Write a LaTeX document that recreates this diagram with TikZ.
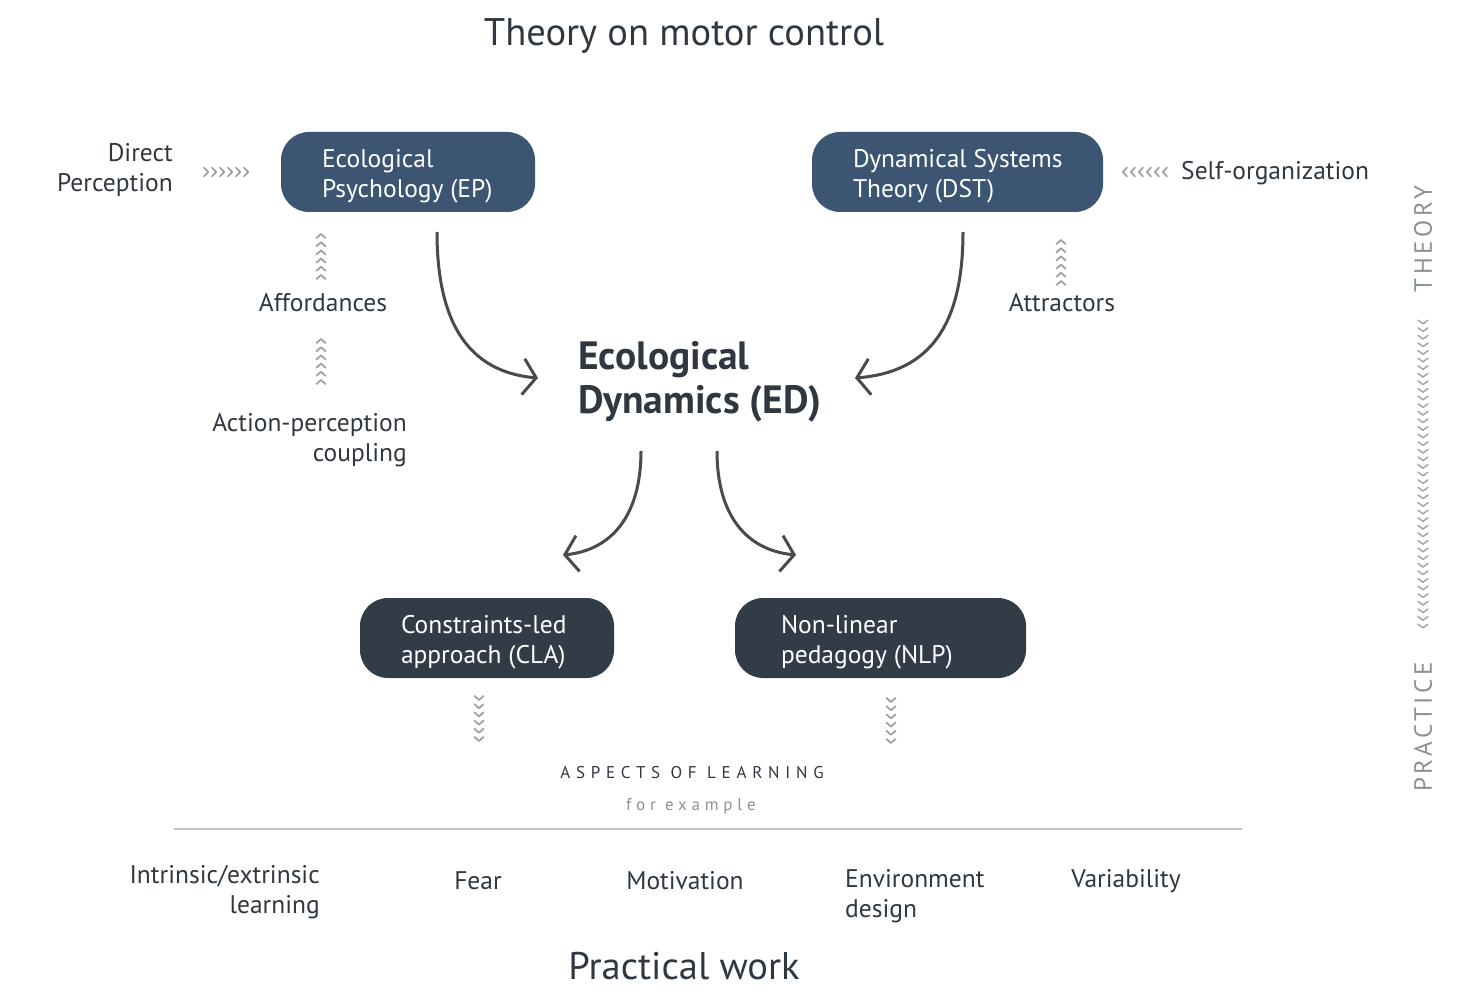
\documentclass[tikz,border=0pt]{standalone}
\usepackage{fontspec}
\setmainfont{PT Sans}
\newfontfamily\spaced[LetterSpace=34]{PT Sans}
\newfontfamily\spacedb[LetterSpace=28]{PT Sans}
\newfontfamily\spacedc[LetterSpace=14]{PT Sans}
\usetikzlibrary{arrows.meta,calc}
\definecolor{txt}{HTML}{2F3740}
\definecolor{epblue}{HTML}{3C5573}
\definecolor{dark}{HTML}{323C47}
\definecolor{chev}{HTML}{9EA2A6}
\definecolor{side}{HTML}{8A9197}
\definecolor{arr}{HTML}{4A4A4A}
\definecolor{rule}{HTML}{C2C4C6}
\tikzset{
  box/.style={fill=#1, rounded corners=28pt, minimum height=80pt, inner sep=0pt},
  boxtext/.style={anchor=west, align=left, text=white, inner sep=0pt, font=\fontsize{25.5}{30}\selectfont},
  lbl/.style={text=txt, font=\fontsize{25.5}{30}\selectfont, inner sep=0pt},
  flow/.style={draw=arr, line width=3pt, -{Straight Barb[length=13pt,width=36pt,line width=3pt]}},
  chv/.style={draw=chev, line width=1.8pt, line cap=round, line join=round},
}
\begin{document}
\begin{tikzpicture}[x=1pt,y=-1pt]
\useasboundingbox (0,0) rectangle (1470,1003);
% titles
\node[lbl, font=\fontsize{38.5}{42}\selectfont] (title) at (684,36) {Theory on motor control};
\node[lbl, font=\fontsize{38.5}{42}\selectfont] (practical) at (684,966) {Practical work};
% theory boxes
\node[box=epblue, minimum width=254pt] (epbox) at (408,172) {};
\node[boxtext] (ep) at ($(epbox.west)+(41,4)$) {Ecological\\Psychology (EP)};
\node[box=epblue, minimum width=291pt] (dstbox) at (957.5,172) {};
\node[boxtext] (dst) at ($(dstbox.west)+(41,4)$) {Dynamical Systems\\Theory (DST)};
% practice boxes
\node[box=dark, minimum width=254pt] (clabox) at (487,638) {};
\node[boxtext] (cla) at ($(clabox.west)+(41,4)$) {Constraints-led\\approach (CLA)};
\node[box=dark, minimum width=291pt] (nlpbox) at (880.5,638) {};
\node[boxtext] (nlp) at ($(nlpbox.west)+(46,4)$) {Non-linear\\pedagogy (NLP)};
% ED
\node[lbl, anchor=west, align=left, font=\fontsize{39.5}{44}\bfseries\selectfont] (ed) at (578,382) {Ecological\\Dynamics (ED)};
% side labels
\node[lbl, anchor=east, align=right] (dp) at (173,170) {Direct\\Perception};
\node[lbl, anchor=west] (so) at (1181,173) {Self-organization};
\node[lbl] (aff) at (323,303) {Affordances};
\node[lbl, anchor=east, align=right] (apc) at (407,440) {Action-perception\\coupling};
\node[lbl] (att) at (1062,303) {Attractors};
% aspects
\node[lbl, font=\spaced\fontsize{17}{20}\selectfont] (asp) at (692,773) {ASPECTS OF LEARNING};
\node[lbl, text=side, font=\spacedb\fontsize{17}{20}\selectfont] (fex) at (691,806) {for example};
\draw[rule, line width=1.2pt] (174,829) -- (1242,829);
\node[lbl, anchor=east, align=right] (ie) at (320,892) {Intrinsic/extrinsic\\learning};
\node[lbl] (fear) at (478,881) {Fear};
\node[lbl] (mot) at (685,881) {Motivation};
\node[lbl, anchor=west, align=left] (env) at (845,896) {Environment\\design};
\node[lbl] (var) at (1126,881) {Variability};
% side THEORY / PRACTICE
\node[lbl, text=side, rotate=90, font=\spacedc\fontsize{25}{28}\selectfont] (theory) at (1423,239) {THEORY};
\node[lbl, text=side, rotate=90, font=\spacedc\fontsize{25}{28}\selectfont] (practice) at (1423,727) {PRACTICE};
% curved arrows
\coordinate (a1s) at (437,232); \coordinate (a1e) at (538,378);
\coordinate (a2s) at (963,232); \coordinate (a2e) at (855,378);
\coordinate (a3s) at (641,451); \coordinate (a3e) at (563,555);
\coordinate (a4s) at (717,451); \coordinate (a4e) at (796,555);
\draw[flow] (a1s) .. controls (437,325) and (470,372) .. (a1e);
\draw[flow] (a2s) .. controls (963,325) and (930,372) .. (a2e);
\draw[flow] (a3s) .. controls (641,515) and (612,550) .. (a3e);
\draw[flow] (a4s) .. controls (717,515) and (746,550) .. (a4e);
% chevrons right (Direct Perception)
\foreach \i in {0,...,5}{\draw[chv] ({206+8*\i-2},167.5) -- ({206+8*\i+2.2},172) -- ({206+8*\i-2},176.5);}
% chevrons left (Self-organization)
\foreach \i in {0,...,5}{\draw[chv] ({1125+8*\i+2},167.5) -- ({1125+8*\i-2.2},172) -- ({1125+8*\i+2},176.5);}
% chevrons up / down
\foreach \i in {0,...,5}{
  \draw[chv] (316.5,{236+8.2*\i+2}) -- (321,{236+8.2*\i-2}) -- (325.5,{236+8.2*\i+2});
  \draw[chv] (316.5,{341+8.2*\i+2}) -- (321,{341+8.2*\i-2}) -- (325.5,{341+8.2*\i+2});
  \draw[chv] (1056.5,{242+8.2*\i+2}) -- (1061,{242+8.2*\i-2}) -- (1065.5,{242+8.2*\i+2});
  \draw[chv] (474.5,{698+8.2*\i-2}) -- (479,{698+8.2*\i+2}) -- (483.5,{698+8.2*\i-2});
  \draw[chv] (886.5,{700+8.2*\i-2}) -- (891,{700+8.2*\i+2}) -- (895.5,{700+8.2*\i-2});
}
% long vertical chevrons (theory -> practice)
\foreach \i in {0,...,40}{\draw[chv, draw=side!85, line width=1.4pt] (1418,{322+7.6*\i-1.8}) -- (1423,{322+7.6*\i+1.8}) -- (1428,{322+7.6*\i-1.8});}
\end{tikzpicture}
\end{document}
